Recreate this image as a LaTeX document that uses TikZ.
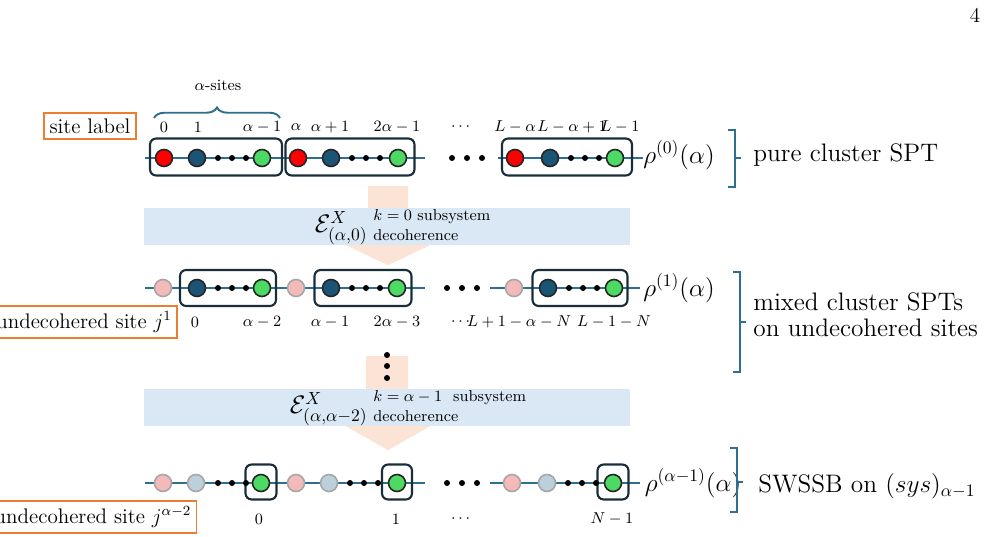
\documentclass[tikz,border=0pt]{standalone}
\usepackage{amsmath}
\usetikzlibrary{decorations.pathreplacing}
\begin{document}
\begin{tikzpicture}[x=0.02cm,y=-0.02cm,
 ln/.style={draw=chainc,line width=1.1pt},
 st/.style={circle,minimum size=17*0.02cm,inner sep=0,draw=black!85,line width=0.9pt},
 rd/.style={st,fill=red},
 bl/.style={st,fill=navyc},
 gr/.style={st,fill=greenc},
 pk/.style={st,fill=pinkc,draw=black!35},
 pb/.style={st,fill=pbluec,draw=black!35},
 dt/.style={circle,fill=black,minimum size=6*0.02cm,inner sep=0},
 bx/.style={draw=boxc,line width=1.2pt,rounded corners=3.5pt},
 lab/.style={font=\small,inner sep=0},
 org/.style={draw=orangec,line width=1pt,font=\large,inner sep=3pt},
 brk/.style={draw=chainc,line width=1.1pt},
 big/.style={font=\Large,anchor=west,inner sep=0}]
\definecolor{chainc}{HTML}{2E6E8E}
\definecolor{navyc}{HTML}{1B5575}
\definecolor{greenc}{HTML}{4CD964}
\definecolor{pinkc}{HTML}{F4BABA}
\definecolor{pbluec}{HTML}{BCD0DC}
\definecolor{boxc}{HTML}{1A2E3A}
\definecolor{orangec}{HTML}{ED7D31}
\definecolor{arrc}{HTML}{FBE3D6}
\definecolor{bandc}{HTML}{DAE8F5}
\useasboundingbox (0,0) rectangle (988,537);
\node[inner sep=0,font=\large] (pg) at (975,15) {4};
% arrows and bands
\fill[arrc] (368,186) -- (408,186) -- (408,245) -- (430,245) -- (388,265) -- (346,245) -- (368,245) -- cycle;
\fill[bandc] (144,208) rectangle (630,245);
\fill[arrc] (366,356) -- (408,356) -- (408,426) -- (430,426) -- (388,450) -- (346,426) -- (366,426) -- cycle;
\fill[bandc] (144,389) rectangle (630,426);
\fill[arrc] (388,245) -- (430,245) -- (388,265) -- (346,245) -- cycle;
\fill[arrc] (388,426) -- (430,426) -- (388,450) -- (346,426) -- cycle;
\node[inner sep=0,anchor=east,font=\Large] (e1) at (368,228) {$\mathcal{E}^{X}_{(\alpha,0)}$};
\node[lab,anchor=west] (k1) at (373,217) {$k=0$ subsystem};
\node[lab,anchor=west] (d1) at (373,235) {decoherence};
\node[inner sep=0,anchor=east,font=\Large] (e2) at (368,409) {$\mathcal{E}^{X}_{(\alpha,\alpha-2)}$};
\node[lab,anchor=west] (k2) at (373,398) {$k=\alpha-1$\ \ subsystem};
\node[lab,anchor=west] (d2) at (373,416) {decoherence};
\node[dt] (v1) at (387,355) {};\node[dt] (v2) at (387,366) {};\node[dt] (v3) at (387,378) {};
% row 1
\coordinate (r1a) at (145,158);\coordinate (r1b) at (425,158);
\coordinate (r1c) at (498,158);\coordinate (r1d) at (643,158);
\draw[ln] (r1a) -- (r1b); \draw[ln] (r1c) -- (r1d);
\node[bx,minimum width=132*0.02cm,minimum height=37*0.02cm] (b11) at (216,157) {};
\node[bx,minimum width=129*0.02cm,minimum height=37*0.02cm] (b12) at (350,157) {};
\node[bx,minimum width=130*0.02cm,minimum height=37*0.02cm] (b13) at (567,157) {};
\foreach \x/\s [count=\i] in {164/rd,197/bl,262/gr,298/rd,331/bl,398/gr,515/rd,550/bl,615/gr}{\node[\s] (a\i) at (\x,158) {};}
\foreach \x [count=\i] in {218,232,246,352,366,380,571,585,599,452,467,482}{\node[dt] (ad\i) at (\x,158) {};}
\foreach \x/\t [count=\i] in {164/0,198/1,262/\alpha-1,296/\alpha,330/\alpha+1,397/2\alpha-1,462/\cdots,515/L-\alpha,572/L-\alpha+1,620/L-1}{\node[lab] (al\i) at (\x,127) {$\t$};}
\draw[brk,decorate,decoration={brace,amplitude=6pt}] (154,118) -- (280,118);
\node[lab] (as) at (218,85) {$\alpha$-sites};
\node[org] (sl) at (90,126) {site label};
\node[big,anchor=center] (rho0) at (679,155) {$\rho^{(0)}(\alpha)$};
\draw[brk] (728,130) -- (735,130) -- (735,187) -- (728,187) (735,158) -- (741,158);
\node[big] (t0) at (753,155) {pure cluster SPT};
% row 2
\coordinate (r2a) at (145,288);\coordinate (r2b) at (425,288);
\coordinate (r2c) at (490,288);\coordinate (r2d) at (640,288);
\draw[ln] (r2a) -- (r2b); \draw[ln] (r2c) -- (r2d);
\node[bx,minimum width=96*0.02cm,minimum height=36*0.02cm] (b21) at (228,288) {};
\node[bx,minimum width=97*0.02cm,minimum height=36*0.02cm] (b22) at (363,288) {};
\node[bx,minimum width=95*0.02cm,minimum height=36*0.02cm] (b23) at (580,288) {};
\foreach \x/\s [count=\i] in {163/pk,197/bl,262/gr,296/pk,331/bl,397/gr,514/pk,548/bl,614/gr}{\node[\s] (b\i) at (\x,288) {};}
\foreach \x [count=\i] in {218,232,246,352,366,380,569,583,597,447,462,477}{\node[dt] (bd\i) at (\x,288) {};}
\foreach \x/\t [count=\i] in {195/0,262/\alpha-2,330/\alpha-1,397/2\alpha-3,462/\cdots,519/L+1-\alpha-N,614/L-1-N}{\node[lab] (bl\i) at (\x,322) {$\t$};}
\node[org] (u1) at (84,322) {undecohered site $j^{1}$};
\node[big,anchor=center] (rho1) at (679,288) {$\rho^{(1)}(\alpha)$};
\draw[brk] (733,272) -- (740,272) -- (740,372) -- (733,372) (740,322) -- (746,322);
\node[big] (t1a) at (753,302) {mixed cluster SPTs};
\node[big] (t1b) at (753,328) {on undecohered sites};
% row 3
\coordinate (r3a) at (145,483);\coordinate (r3b) at (425,483);
\coordinate (r3c) at (490,483);\coordinate (r3d) at (640,483);
\draw[ln] (r3a) -- (r3b); \draw[ln] (r3c) -- (r3d);
\node[bx,minimum width=31*0.02cm,minimum height=35*0.02cm] (b31) at (261,482) {};
\node[bx,minimum width=30*0.02cm,minimum height=35*0.02cm] (b32) at (397,482) {};
\node[bx,minimum width=31*0.02cm,minimum height=35*0.02cm] (b33) at (613,482) {};
\foreach \x/\s [count=\i] in {163/pk,196/pb,261/gr,296/pk,329/pb,397/gr,512/pk,547/pb,613/gr}{\node[\s] (c\i) at (\x,483) {};}
\foreach \x [count=\i] in {218,232,246,350,364,378,568,582,596,447,462,477}{\node[dt] (cd\i) at (\x,483) {};}
\foreach \x/\t [count=\i] in {259/0,396/1,462/\cdots,612/N-1}{\node[lab] (cl\i) at (\x,519) {$\t$};}
\node[org] (u2) at (93,517) {undecohered site $j^{\alpha-2}$};
\node[big,anchor=center] (rho2) at (693,483) {$\rho^{(\alpha-1)}(\alpha)$};
\draw[brk] (730,448) -- (737,448) -- (737,512) -- (730,512) (737,482) -- (743,482);
\node[big] (t2) at (758,486) {SWSSB on $(sys)_{\alpha-1}$};
\end{tikzpicture}
\end{document}
